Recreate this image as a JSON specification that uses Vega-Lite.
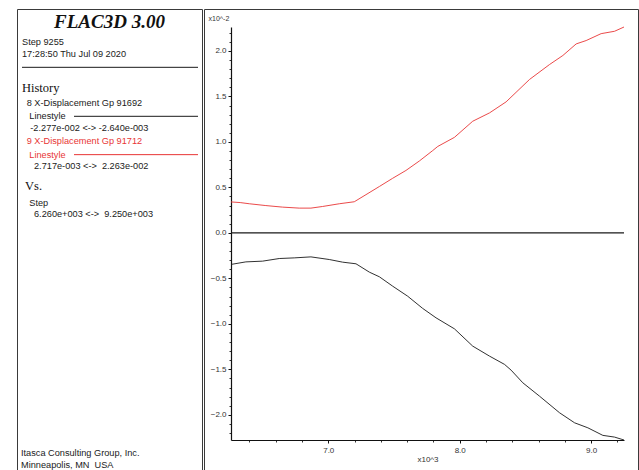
{
  "$schema": "https://vega.github.io/schema/vega-lite/v6.json",
  "padding": {"left": 16, "top": 8, "right": 0, "bottom": 0},
  "spacing": 0,
  "background": "white",
  "config": {
    "view": {"stroke": "#3a3a3a", "strokeWidth": 1},
    "font": "Liberation Sans",
    "concat": {"spacing": 0}
  },
  "datasets": {
    "panelText": [
      {"text": "FLAC3D 3.00", "kind": "title", "series": "none", "indent": 18.5, "line": 1.15},
      {"text": "Step 9255", "kind": "body", "series": "none", "indent": 1.0, "line": 2.88},
      {"text": "17:28:50 Thu Jul 09 2020", "kind": "body", "series": "none", "indent": 1.0, "line": 3.92},
      {"text": "History", "kind": "heading", "series": "none", "indent": 1.0, "line": 6.81},
      {"text": "8 X-Displacement Gp 91692", "kind": "body", "series": "8", "indent": 1.94, "line": 8.16},
      {"text": "Linestyle", "kind": "body", "series": "8", "indent": 2.46, "line": 9.29},
      {"text": "-2.277e-002 <-> -2.640e-003", "kind": "body", "series": "8", "indent": 2.66, "line": 10.33},
      {"text": "9 X-Displacement Gp 91712", "kind": "body", "series": "9", "indent": 1.94, "line": 11.45},
      {"text": "Linestyle", "kind": "body", "series": "9", "indent": 2.46, "line": 12.61},
      {"text": "2.717e-003 <->\u00a0 2.263e-002", "kind": "body", "series": "none", "indent": 3.4, "line": 13.59},
      {"text": "Vs.", "kind": "heading", "series": "none", "indent": 1.6, "line": 15.35},
      {"text": "Step", "kind": "body", "series": "none", "indent": 2.46, "line": 16.77},
      {"text": "6.260e+003 <->\u00a0 9.250e+003", "kind": "body", "series": "none", "indent": 3.4, "line": 17.78},
      {"text": "Itasca Consulting Group, Inc.", "kind": "body", "series": "none", "indent": 0.8, "line": 38.48},
      {"text": "Minneapolis, MN\u00a0 USA", "kind": "body", "series": "none", "indent": 0.8, "line": 39.52}
    ],
    "panelRules": [
      {"series": "none", "start": 1.0, "end": 36.2, "line": 5.05},
      {"series": "8", "start": 11.4, "end": 36.2, "line": 9.29},
      {"series": "9", "start": 11.4, "end": 36.2, "line": 12.61}
    ],
    "history": [
      {"series": "9", "step": 6260, "disp": 0.00340},
      {"series": "9", "step": 6330, "disp": 0.00333},
      {"series": "9", "step": 6399, "disp": 0.00320},
      {"series": "9", "step": 6525, "disp": 0.00300},
      {"series": "9", "step": 6652, "disp": 0.00283},
      {"series": "9", "step": 6779, "disp": 0.00272},
      {"series": "9", "step": 6868, "disp": 0.00272},
      {"series": "9", "step": 6957, "disp": 0.00290},
      {"series": "9", "step": 7084, "disp": 0.00320},
      {"series": "9", "step": 7198, "disp": 0.00342},
      {"series": "9", "step": 7287, "disp": 0.00420},
      {"series": "9", "step": 7389, "disp": 0.00510},
      {"series": "9", "step": 7490, "disp": 0.00600},
      {"series": "9", "step": 7591, "disp": 0.00686},
      {"series": "9", "step": 7693, "disp": 0.00790},
      {"series": "9", "step": 7795, "disp": 0.00905},
      {"series": "9", "step": 7833, "disp": 0.00950},
      {"series": "9", "step": 7960, "disp": 0.01050},
      {"series": "9", "step": 8099, "disp": 0.01227},
      {"series": "9", "step": 8227, "disp": 0.01319},
      {"series": "9", "step": 8353, "disp": 0.01440},
      {"series": "9", "step": 8531, "disp": 0.01686},
      {"series": "9", "step": 8683, "disp": 0.01850},
      {"series": "9", "step": 8785, "disp": 0.01950},
      {"series": "9", "step": 8886, "disp": 0.02077},
      {"series": "9", "step": 8962, "disp": 0.02114},
      {"series": "9", "step": 9076, "disp": 0.02190},
      {"series": "9", "step": 9178, "disp": 0.02216},
      {"series": "9", "step": 9250, "disp": 0.02263},
      {"series": "8", "step": 6260, "disp": -0.00347},
      {"series": "8", "step": 6373, "disp": -0.00319},
      {"series": "8", "step": 6500, "disp": -0.00311},
      {"series": "8", "step": 6627, "disp": -0.00282},
      {"series": "8", "step": 6741, "disp": -0.00275},
      {"series": "8", "step": 6868, "disp": -0.00264},
      {"series": "8", "step": 7008, "disp": -0.00293},
      {"series": "8", "step": 7109, "disp": -0.00322},
      {"series": "8", "step": 7211, "disp": -0.00340},
      {"series": "8", "step": 7313, "disp": -0.00432},
      {"series": "8", "step": 7389, "disp": -0.00483},
      {"series": "8", "step": 7490, "disp": -0.00586},
      {"series": "8", "step": 7604, "disp": -0.00696},
      {"series": "8", "step": 7718, "disp": -0.00830},
      {"series": "8", "step": 7820, "disp": -0.00934},
      {"series": "8", "step": 7960, "disp": -0.01055},
      {"series": "8", "step": 8099, "disp": -0.01245},
      {"series": "8", "step": 8227, "disp": -0.01355},
      {"series": "8", "step": 8341, "disp": -0.01446},
      {"series": "8", "step": 8391, "disp": -0.01509},
      {"series": "8", "step": 8480, "disp": -0.01648},
      {"series": "8", "step": 8607, "disp": -0.01795},
      {"series": "8", "step": 8760, "disp": -0.01978},
      {"series": "8", "step": 8874, "disp": -0.02088},
      {"series": "8", "step": 8975, "disp": -0.02143},
      {"series": "8", "step": 9089, "disp": -0.02226},
      {"series": "8", "step": 9178, "disp": -0.02245},
      {"series": "8", "step": 9250, "disp": -0.02277}
    ]
  },
  "hconcat": [
    {
      "width": 185,
      "height": 462,
      "layer": [
        {
          "data": {"name": "panelRules"},
          "mark": {"type": "rule", "strokeWidth": 1},
          "encoding": {
            "x": {"field": "start", "type": "quantitative", "scale": {"domain": [0, 37], "nice": false, "zero": false}, "axis": null},
            "x2": {"field": "end"},
            "y": {"field": "line", "type": "quantitative", "scale": {"domain": [0, 40], "nice": false, "zero": false, "reverse": true}, "axis": null},
            "color": {"field": "series", "type": "nominal", "scale": {"domain": ["none", "8", "9"], "range": ["#1a1a1a", "#1a1a1a", "#e83535"]}, "legend": null}
          }
        },
        {
          "data": {"name": "panelText"},
          "transform": [{"filter": "datum.kind === 'title'"}],
          "mark": {"type": "text", "font": "Liberation Serif", "fontStyle": "italic", "fontWeight": "bold", "fontSize": 19, "align": "center", "baseline": "middle", "color": "#111111"},
          "encoding": {
            "x": {"field": "indent", "type": "quantitative"},
            "y": {"field": "line", "type": "quantitative"},
            "text": {"field": "text"}
          }
        },
        {
          "data": {"name": "panelText"},
          "transform": [{"filter": "datum.kind === 'heading'"}],
          "mark": {"type": "text", "font": "Liberation Serif", "fontSize": 12.5, "align": "left", "baseline": "middle", "color": "#111111"},
          "encoding": {
            "x": {"field": "indent", "type": "quantitative"},
            "y": {"field": "line", "type": "quantitative"},
            "text": {"field": "text"}
          }
        },
        {
          "data": {"name": "panelText"},
          "transform": [{"filter": "datum.kind === 'body'"}],
          "mark": {"type": "text", "font": "Liberation Sans", "fontSize": 9.2, "align": "left", "baseline": "middle"},
          "encoding": {
            "x": {"field": "indent", "type": "quantitative"},
            "y": {"field": "line", "type": "quantitative"},
            "text": {"field": "text"},
            "color": {"field": "series", "type": "nominal"}
          }
        }
      ]
    },
    {
      "width": 434,
      "height": 462,
      "resolve": {"axis": {"x": "independent", "y": "independent"}},
      "layer": [
        {
          "data": {"values": [{}]},
          "mark": {"type": "rule", "color": "#1a1a1a", "strokeWidth": 1.3},
          "encoding": {
            "y": {"datum": 0, "type": "quantitative",
              "axis": {"orient": "left", "offset": -27, "values": [-0.022,-0.021,-0.019,-0.018,-0.017,-0.016,-0.014,-0.013,-0.012,-0.011,-0.009,-0.008,-0.007,-0.006,-0.004,-0.003,-0.002,-0.001,0.001,0.002,0.003,0.004,0.006,0.007,0.008,0.009,0.011,0.012,0.013,0.014,0.016,0.017,0.018,0.019,0.021,0.022], "labels": false, "domain": false, "grid": false, "tickSize": 2, "tickColor": "#333333", "title": null}},
            "x": {"datum": 6260, "type": "quantitative",
              "axis": {"orient": "bottom", "offset": -31, "values": [6400,6600,6800,7200,7400,7600,7800,8200,8400,8600,8800,9200], "labels": false, "domain": false, "grid": false, "tickSize": 2, "tickColor": "#333333", "title": null}},
            "x2": {"datum": 9250}
          }
        },
        {
          "data": {"name": "history"},
          "mark": {"type": "line", "strokeWidth": 0.9},
          "encoding": {
            "x": {"field": "step", "type": "quantitative",
              "scale": {"domain": [6260, 9250], "range": [27, 420], "nice": false, "zero": false},
              "axis": {"orient": "bottom", "offset": -31, "values": [7000, 8000, 9000], "labelExpr": "format(datum.value/1000, '.1f')", "labelFont": "Liberation Sans", "labelFontSize": 8, "labelColor": "#333333", "labelPadding": 3, "labelFlush": false, "tickSize": 3, "tickColor": "#111111", "domainColor": "#111111", "domainWidth": 1.2, "grid": false,
                "title": "x10^3", "titleFont": "Liberation Sans", "titleFontSize": 8, "titleFontWeight": "normal", "titleColor": "#333333", "titlePadding": 1}},
            "y": {"field": "disp", "type": "quantitative",
              "scale": {"domain": [-0.02277, 0.02263], "range": [431, 18], "nice": false, "zero": false},
              "axis": {"orient": "left", "offset": -27, "values": [-0.02, -0.015, -0.01, -0.005, 0, 0.005, 0.01, 0.015, 0.02], "labelExpr": "format(datum.value*100, '.1f')", "labelFont": "Liberation Sans", "labelFontSize": 8, "labelColor": "#333333", "labelPadding": 2, "labelFlush": false, "tickSize": 3, "tickColor": "#111111", "domainColor": "#111111", "domainWidth": 1.2, "grid": false,
                "title": "x10^-2", "titleFont": "Liberation Sans", "titleFontSize": 7, "titleFontWeight": "normal", "titleColor": "#333333", "titleAngle": 0, "titleAlign": "left", "titleBaseline": "middle", "titleX": -23, "titleY": 9}},
            "color": {"field": "series", "type": "nominal", "scale": {"domain": ["8", "9"], "range": ["#2a2a2a", "#ff3a3a"]}, "legend": null}
          }
        }
      ]
    }
  ]
}
